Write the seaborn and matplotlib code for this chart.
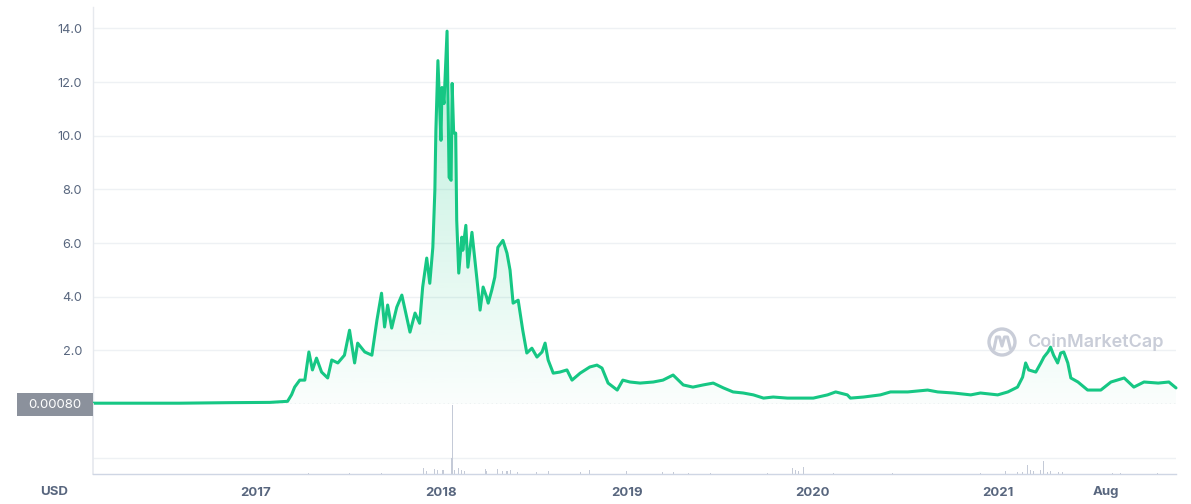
import numpy as np
import pandas as pd
import matplotlib
matplotlib.use("Agg")
import matplotlib.pyplot as plt
import matplotlib.dates as mdates
import seaborn as sns
from matplotlib.patches import Rectangle, Circle

# ---------------- data ----------------
price_dates = [
    "2016-02-15", "2016-08-03", "2016-11-10", "2017-01-28", "2017-03-04", "2017-03-12",
    "2017-03-18", "2017-03-28", "2017-04-07", "2017-04-15", "2017-04-22", "2017-04-30",
    "2017-05-10", "2017-05-22", "2017-05-30", "2017-06-11", "2017-06-24", "2017-07-04",
    "2017-07-14", "2017-07-20", "2017-08-03", "2017-08-17", "2017-08-27", "2017-09-05",
    "2017-09-11", "2017-09-17", "2017-09-25", "2017-10-05", "2017-10-15", "2017-10-25",
    "2017-10-31", "2017-11-10", "2017-11-19", "2017-11-25", "2017-12-03", "2017-12-09",
    "2017-12-15", "2017-12-19", "2017-12-21", "2017-12-25", "2017-12-31", "2018-01-02",
    "2018-01-06", "2018-01-12", "2018-01-16", "2018-01-20", "2018-01-22", "2018-01-25",
    "2018-01-29", "2018-01-31", "2018-02-04", "2018-02-10", "2018-02-12", "2018-02-18",
    "2018-02-22", "2018-03-02", "2018-03-12", "2018-03-18", "2018-03-24", "2018-03-31",
    "2018-04-03", "2018-04-10", "2018-04-16", "2018-04-22", "2018-05-02", "2018-05-10",
    "2018-05-16", "2018-05-22", "2018-06-01", "2018-06-10", "2018-06-18", "2018-06-28",
    "2018-07-08", "2018-07-18", "2018-07-24", "2018-07-30", "2018-08-09", "2018-08-22",
    "2018-09-05", "2018-09-15", "2018-10-01", "2018-10-20", "2018-11-03", "2018-11-13",
    "2018-11-25", "2018-12-13", "2018-12-24", "2019-01-07", "2019-01-27", "2019-02-22",
    "2019-03-13", "2019-04-02", "2019-04-22", "2019-05-11", "2019-05-31", "2019-06-20",
    "2019-07-10", "2019-07-29", "2019-08-18", "2019-09-07", "2019-09-27", "2019-10-16",
    "2019-11-13", "2019-12-09", "2020-01-03", "2020-01-31", "2020-02-16", "2020-03-10",
    "2020-03-16", "2020-04-11", "2020-05-14", "2020-06-03", "2020-07-07", "2020-08-15",
    "2020-09-04", "2020-10-05", "2020-11-08", "2020-11-27", "2020-12-31", "2021-01-20",
    "2021-02-08", "2021-02-18", "2021-02-24", "2021-03-02", "2021-03-16", "2021-03-26",
    "2021-04-01", "2021-04-09", "2021-04-14", "2021-04-20", "2021-04-28", "2021-05-04",
    "2021-05-10", "2021-05-18", "2021-05-24", "2021-06-07", "2021-06-26", "2021-07-22",
    "2021-08-11", "2021-09-06", "2021-09-25", "2021-10-15", "2021-11-12", "2021-12-03",
    "2021-12-17",
]
price_values = [
    0.03, 0.03, 0.05, 0.06, 0.10, 0.35,
    0.63, 0.89, 0.89, 1.94, 1.27, 1.71,
    1.19, 0.97, 1.64, 1.53, 1.82, 2.75,
    1.53, 2.27, 1.94, 1.82, 3.13, 4.13,
    2.87, 3.69, 2.83, 3.61, 4.06, 3.20,
    2.68, 3.39, 3.01, 4.36, 5.44, 4.50,
    5.84, 7.97, 10.2, 12.8, 9.83, 11.8,
    11.2, 13.9, 8.45, 8.34, 11.95, 10.1,
    10.1, 6.85, 4.88, 6.22, 5.73, 6.66,
    5.10, 6.40, 4.62, 3.50, 4.36, 3.98,
    3.76, 4.24, 4.73, 5.84, 6.10, 5.62,
    4.99, 3.76, 3.87, 2.75, 1.90, 2.08,
    1.75, 1.94, 2.27, 1.64, 1.15, 1.19,
    1.27, 0.89, 1.15, 1.38, 1.45, 1.34,
    0.78, 0.52, 0.89, 0.82, 0.78, 0.82,
    0.89, 1.08, 0.71, 0.63, 0.71, 0.78,
    0.60, 0.45, 0.41, 0.34, 0.22, 0.26,
    0.22, 0.22, 0.22, 0.34, 0.45, 0.34,
    0.22, 0.26, 0.34, 0.45, 0.45, 0.52,
    0.45, 0.41, 0.34, 0.41, 0.34, 0.45,
    0.63, 1.00, 1.53, 1.27, 1.19, 1.53,
    1.75, 1.94, 2.12, 1.82, 1.53, 1.90,
    1.94, 1.53, 0.97, 0.82, 0.52, 0.52,
    0.82, 0.97, 0.63, 0.82, 0.78, 0.82,
    0.60,
]

volume_dates = [
    "2017-04-15", "2017-07-04", "2017-09-05",
    "2017-11-27", "2017-12-03", "2017-12-19", "2017-12-25", "2018-01-04", "2018-01-21",
    "2018-01-23", "2018-01-27", "2018-02-04", "2018-02-10", "2018-02-16", "2018-03-28",
    "2018-03-31", "2018-04-22", "2018-05-02", "2018-05-10", "2018-05-16", "2018-05-30",
    "2018-07-08", "2018-07-30", "2018-10-01", "2018-10-20", "2019-01-01", "2019-03-13",
    "2019-04-02", "2019-05-02", "2019-06-14", "2019-10-04", "2019-11-23", "2019-11-29",
    "2019-12-05", "2019-12-14", "2020-02-12", "2020-06-07", "2020-11-27", "2021-01-15",
    "2021-02-08", "2021-02-18", "2021-02-28", "2021-03-06", "2021-03-12", "2021-03-26",
    "2021-04-01", "2021-04-09", "2021-04-14", "2021-04-30", "2021-05-08", "2021-08-14",
    "2021-08-30", "2021-11-11",
]
volume_values = [
    1, 1, 1,
    6, 3, 5, 4, 4, 16,
    69, 4, 6, 4, 3, 5,
    3, 5, 3, 3, 4, 2,
    2, 3, 2, 4, 3, 2,
    2, 1, 1, 1, 6, 4,
    3, 7, 1, 1, 1, 3,
    2, 2, 9, 4, 3, 4,
    13, 2, 3, 2, 2, 1,
    1, 1,
]

y_ticks = [2, 4, 6, 8, 10, 12, 14]
y_tick_labels = ["2.0", "4.0", "6.0", "8.0", "10.0", "12.0", "14.0"]
x_tick_dates = ["2017-01-01", "2018-01-01", "2019-01-01", "2020-01-01", "2021-01-01", "2021-08-01"]
x_tick_labels = ["2017", "2018", "2019", "2020", "2021", "Aug"]
base_label = "0.00080"
currency_label = "USD"
watermark = "CoinMarketCap"

# ---------------- style ----------------
sns.set_theme(style="white")
plt.rcParams["font.family"] = ["Inter", "DejaVu Sans"]

W, H = 1191, 504
fig = plt.figure(figsize=(W / 100, H / 100), dpi=100)
fig.patch.set_facecolor("white")

LEFT, RIGHT = 93, 1176
ax = fig.add_axes([LEFT / W, (H - 404) / H, (RIGHT - LEFT) / W, (404 - 7) / H])
axv = fig.add_axes([LEFT / W, (H - 474) / H, (RIGHT - LEFT) / W, 70 / H])

green = "#16c784"
label_col = "#58667e"
grid_col = "#eef1f4"

df = pd.DataFrame({"date": pd.to_datetime(price_dates), "price": price_values})
vdf = pd.DataFrame({"date": pd.to_datetime(volume_dates), "volume": volume_values})

xmin, xmax = df["date"].min(), df["date"].max()

# gradient fill under the line
poly = ax.fill_between(df["date"], df["price"], 0, color="none", lw=0)
ymax = 14.8
grad = np.linspace(0.0, 1.0, 256).reshape(-1, 1)
rgba = np.zeros((256, 1, 4))
rgba[..., 0] = 22 / 255
rgba[..., 1] = 199 / 255
rgba[..., 2] = 132 / 255
rgba[..., 3] = 0.02 + 0.28 * grad
im = ax.imshow(rgba, aspect="auto", origin="lower",
               extent=[mdates.date2num(xmin), mdates.date2num(xmax), 0, 14.0], zorder=1)
im.set_clip_path(poly.get_paths()[0], transform=ax.transData)

sns.lineplot(data=df, x="date", y="price", ax=ax, color=green, lw=2.2,
             zorder=3, clip_on=False)

ax.axhline(0, color="#9aa3b3", lw=0.9, ls=(0, (1, 2.5)), zorder=2)

ax.set_xlim(xmin, xmax)
ax.set_ylim(0, ymax)
ax.set_yticks(y_ticks)
ax.set_yticklabels(y_tick_labels)
ax.yaxis.grid(True, color=grid_col, lw=1)
ax.xaxis.grid(False)
ax.set_xticks([])
ax.set_xlabel("")
ax.set_ylabel("")
ax.tick_params(axis="y", length=0, pad=8, labelsize=9.2, labelcolor=label_col)
for s in ["top", "right", "bottom"]:
    ax.spines[s].set_visible(False)
ax.spines["left"].set_color("#e6e9ee")
ax.spines["left"].set_linewidth(1)
ax.set_facecolor("none")

# volume
axv.bar(vdf["date"], vdf["volume"], width=2.0, color="#c4cad7", lw=0)
axv.set_xlim(xmin, xmax)
axv.set_ylim(0, 70)
axv.set_yticks([16])
axv.set_yticklabels([])
axv.tick_params(axis="y", length=0)
axv.yaxis.grid(True, color=grid_col, lw=1)
axv.set_xticks(pd.to_datetime(x_tick_dates))
axv.set_xticklabels(x_tick_labels)
axv.tick_params(axis="x", length=3, width=0.8, color="#a6b0c3", pad=6,
                labelsize=9.5, labelcolor=label_col)
for lab in axv.get_xticklabels():
    lab.set_fontweight("bold")
axv.set_xlabel("")
axv.set_ylabel("")
for s in ["top", "right"]:
    axv.spines[s].set_visible(False)
axv.spines["left"].set_color("#e6e9ee")
axv.spines["bottom"].set_color("#cfd6e4")
axv.spines["bottom"].set_linewidth(1)
axv.set_facecolor("none")

# overlay in pixel coordinates for labels and watermark
ov = fig.add_axes([0, 0, 1, 1], zorder=10)
ov.set_xlim(0, W)
ov.set_ylim(H, 0)
ov.axis("off")
ov.patch.set_alpha(0)

ov.add_patch(Rectangle((17, 393), 76, 23, color="#8b919c", lw=0))
ov.text(55, 404.5, base_label, color="white", fontsize=9.5, ha="center", va="center")
ov.text(54, 492, currency_label, color=label_col, fontsize=9.5, fontweight="bold",
        ha="center", va="center")

wm_col = "#c9cdd8"
ov.add_patch(Circle((1002, 342), 13, fill=False, ec=wm_col, lw=2.4))
ov.plot([994, 996.5, 999.5, 1002, 1004.5, 1007.5, 1010.5],
        [349, 337, 337, 346, 337, 337, 349], color=wm_col, lw=2.2,
        solid_capstyle="round", solid_joinstyle="round")
ov.text(1027, 342.5, watermark, color=wm_col, fontsize=13, fontweight="semibold",
        ha="left", va="center")

fig.savefig("out.png", dpi=100)
